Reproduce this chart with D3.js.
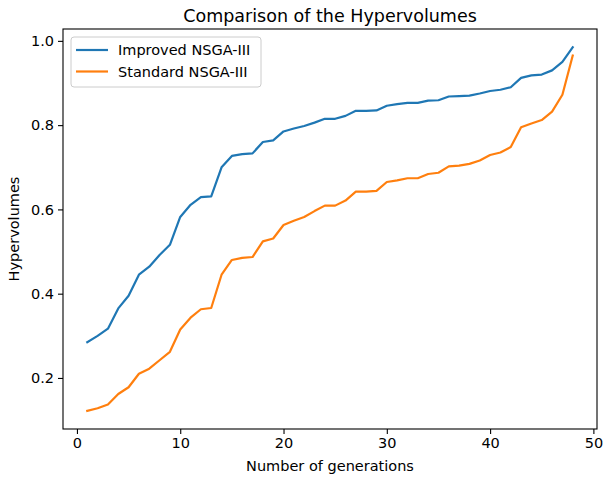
<!DOCTYPE html>
<html>
<head>
<meta charset="utf-8">
<script src="https://cdn.jsdelivr.net/npm/d3@7"></script>
<style>
  body { margin: 0; background: #fff; }
  text { font-family: "DejaVu Sans", sans-serif; fill: #000; }
</style>
</head>
<body>
<div id="chart"></div>
<script>
// values
var generations = d3.range(1, 49);

var improved = [0.285, 0.300, 0.317, 0.365, 0.395, 0.445, 0.464, 0.492, 0.516, 0.582,
                0.611, 0.629, 0.631, 0.700, 0.727, 0.731, 0.733, 0.760, 0.764, 0.785,
                0.792, 0.798, 0.806, 0.815, 0.815, 0.822, 0.834, 0.834, 0.835, 0.846,
                0.850, 0.853, 0.853, 0.858, 0.859, 0.868, 0.869, 0.870, 0.875, 0.881,
                0.884, 0.890, 0.912, 0.918, 0.920, 0.930, 0.950, 0.985];

var standard = [0.122, 0.128, 0.137, 0.162, 0.178, 0.210, 0.222, 0.242, 0.262, 0.315,
                0.343, 0.363, 0.366, 0.445, 0.480, 0.485, 0.487, 0.524, 0.531, 0.563,
                0.573, 0.582, 0.596, 0.609, 0.609, 0.621, 0.642, 0.642, 0.644, 0.665,
                0.669, 0.674, 0.674, 0.684, 0.687, 0.702, 0.704, 0.708, 0.716, 0.729,
                0.735, 0.748, 0.795, 0.804, 0.812, 0.832, 0.872, 0.965];

var seriesNames = ["Improved NSGA-III", "Standard NSGA-III"];
var seriesColors = ["#1f77b4", "#ff7f0e"];
var xTicks = [0, 10, 20, 30, 40, 50];
var yTicks = [0.2, 0.4, 0.6, 0.8, 1.0];

var width = 604, height = 479;
var margin = {top: 29, right: 7, bottom: 50, left: 63};

var svg = d3.select("#chart").append("svg")
    .attr("width", width)
    .attr("height", height);

// matplotlib style 5% padding on both axes
var allY = improved.concat(standard);
var xPad = (48 - 1) * 0.05;
var yMin = d3.min(allY), yMax = d3.max(allY);
var yPad = (yMax - yMin) * 0.05;

var x = d3.scaleLinear()
    .domain([1 - xPad, 48 + xPad])
    .range([margin.left, width - margin.right]);

var y = d3.scaleLinear()
    .domain([yMin - yPad, yMax + yPad])
    .range([height - margin.bottom, margin.top]);

// axes
var xAxis = svg.append("g")
    .attr("transform", "translate(0," + (height - margin.bottom) + ")")
    .call(d3.axisBottom(x).tickValues(xTicks).tickSize(5).tickPadding(4).tickFormat(d3.format("d")));

var yAxis = svg.append("g")
    .attr("transform", "translate(" + margin.left + ",0)")
    .call(d3.axisLeft(y).tickValues(yTicks).tickSize(5).tickPadding(4).tickFormat(d3.format(".1f")));

[xAxis, yAxis].forEach(function (ax) {
    ax.select(".domain").remove();
    ax.selectAll(".tick line").attr("stroke", "#000").attr("stroke-width", 1.1);
    ax.selectAll(".tick text")
        .style("font-family", "DejaVu Sans, sans-serif")
        .style("font-size", "14.5px")
        .attr("fill", "#000");
});

// the lines
var line = d3.line()
    .x(function (d, i) { return x(generations[i]); })
    .y(function (d) { return y(d); });

[improved, standard].forEach(function (s, k) {
    svg.append("path")
        .datum(s)
        .attr("fill", "none")
        .attr("stroke", seriesColors[k])
        .attr("stroke-width", 2.2)
        .attr("stroke-linejoin", "round")
        .attr("stroke-linecap", "square")
        .attr("d", line);
});

// frame
svg.append("rect")
    .attr("x", margin.left)
    .attr("y", margin.top)
    .attr("width", width - margin.left - margin.right)
    .attr("height", height - margin.top - margin.bottom)
    .attr("fill", "none")
    .attr("stroke", "#000")
    .attr("stroke-width", 1.1);

// title and axis labels
svg.append("text")
    .attr("x", (margin.left + width - margin.right) / 2)
    .attr("y", 22)
    .style("text-anchor", "middle")
    .style("font-size", "17.5px")
    .text("Comparison of the Hypervolumes");

svg.append("text")
    .attr("x", (margin.left + width - margin.right) / 2)
    .attr("y", 471)
    .style("text-anchor", "middle")
    .style("font-size", "14.5px")
    .text("Number of generations");

svg.append("text")
    .attr("transform", "translate(19," + ((margin.top + height - margin.bottom) / 2) + ") rotate(-90)")
    .style("text-anchor", "middle")
    .style("font-size", "14.5px")
    .text("Hypervolumes");

// legend
var legend = svg.append("g").attr("transform", "translate(71,37)");

legend.append("rect")
    .attr("width", 190)
    .attr("height", 50)
    .attr("rx", 3)
    .attr("fill", "#fff")
    .attr("fill-opacity", 0.8)
    .attr("stroke", "#cccccc");

seriesNames.forEach(function (name, i) {
    var g = legend.append("g").attr("transform", "translate(0," + (13 + i * 21.5) + ")");
    g.append("line")
        .attr("x1", 5).attr("x2", 37)
        .attr("stroke", seriesColors[i])
        .attr("stroke-width", 2.2);
    g.append("text")
        .attr("x", 47)
        .attr("dy", "0.35em")
        .style("font-size", "14.5px")
        .text(name);
});
</script>
</body>
</html>
